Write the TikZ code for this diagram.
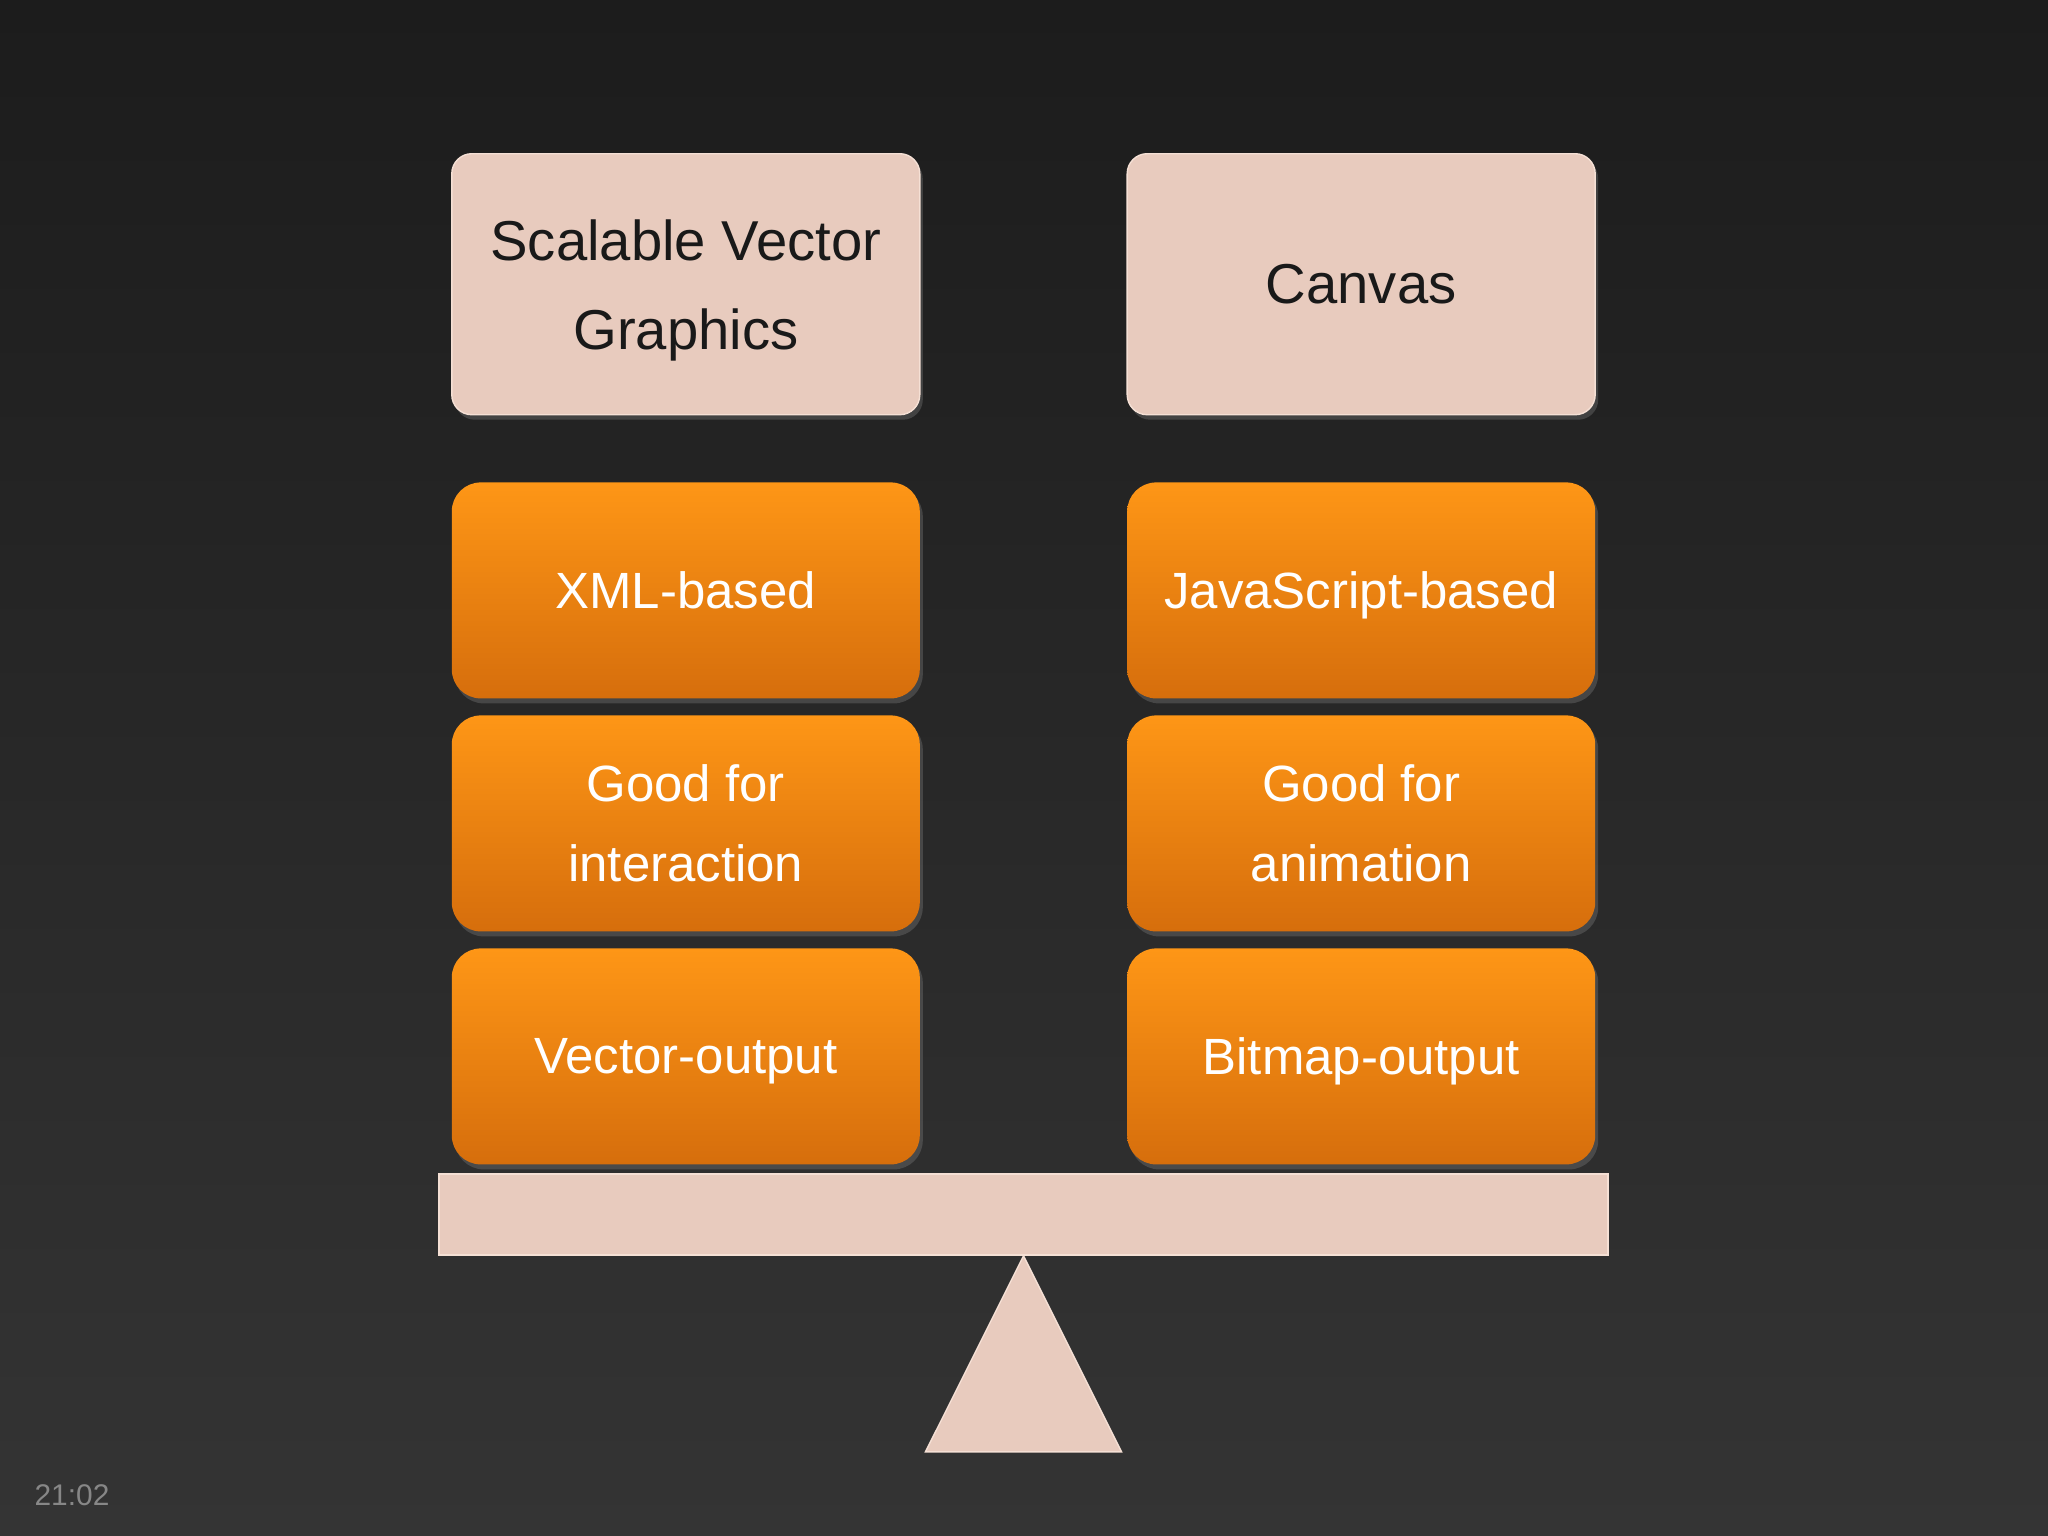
\documentclass[tikz,border=0pt]{standalone}
\usepackage{fontspec}
\setmainfont{Liberation Sans}
\usetikzlibrary{matrix,positioning,shadows}
\definecolor{bgtop}{RGB}{28,28,28}
\definecolor{bgbot}{RGB}{52,52,52}
\definecolor{plateclr}{RGB}{232,203,190}
\definecolor{plateline}{RGB}{245,224,213}
\definecolor{orangetop}{RGB}{254,150,22}
\definecolor{orangemid}{RGB}{246,139,18}
\definecolor{orangebot}{RGB}{214,110,12}
\definecolor{clockgray}{RGB}{135,135,135}

\begin{document}
\begin{tikzpicture}[
  lifted/.style={drop shadow={opacity=0.35, shadow xshift=0.03cm, shadow yshift=-0.05cm}},
  plate/.style={lifted, draw=plateline, fill=plateclr, rounded corners=0.2cm, anchor=center,
    minimum width=4.68cm, minimum height=2.61cm, inner sep=0.1cm, align=center, text depth=0pt,
    text=black!90, font=\fontsize{16pt}{25.3pt}\selectfont},
  block/.style={lifted, top color=orangetop, middle color=orangemid, bottom color=orangebot,
    rounded corners=0.29cm, anchor=center, minimum width=4.68cm, minimum height=2.16cm,
    inner sep=0.1cm, align=center, text depth=0pt, text=white, font=\fontsize{14.5pt}{22.7pt}\selectfont},
  stand/.style={draw=plateline, fill=plateclr}
]
  \fill[top color=bgtop, bottom color=bgbot] (0,0) rectangle (20.48,-15.36);
  \useasboundingbox (0,0) rectangle (20.48,-15.36);
  \matrix (m) at (10.235,-1.53) [anchor=north, inner sep=0pt, outer sep=0pt,
    row sep=0.17cm, column sep=2.06cm]
  {
\node (svg) [plate] {Scalable Vector\\Graphics}; & \node (canvas) [plate] {Canvas}; \\[0.5cm]
\node (xml) [block] {XML-based}; & \node (js) [block] {JavaScript-based}; \\
\node (interact) [block] {Good for\\interaction}; & \node (anim) [block] {Good for\\animation}; \\
\node (vecout) [block] {Vector-output}; & \node (bitout) [block] {Bitmap-output}; \\
};
  \node (beam) [stand, minimum width=11.69cm, minimum height=0.81cm, below=0.09cm of m] {};
  \coordinate (pivot) at (beam.south);
  \draw[stand] (pivot) -- ++(0.98,-1.96) -- ++(-1.96,0) -- cycle;
  \node (clock) at (0.72,-14.95) [text=clockgray, font=\fontsize{8.5pt}{10pt}\selectfont] {21:02};
\end{tikzpicture}
\end{document}
